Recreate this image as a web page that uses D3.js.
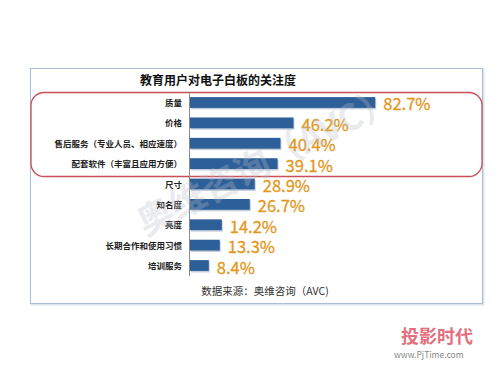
<!DOCTYPE html>
<html>
<head>
<meta charset="utf-8">
<script src="https://cdn.jsdelivr.net/npm/d3@7"></script>
<style>
body { margin: 0; background: #fff; }
svg text { font-family: "Noto Sans CJK SC", "Liberation Sans", sans-serif; }
</style>
</head>
<body>
<div id="chart"></div>
<script>
'use strict';
// 教育用户对电子白板的关注度
const categories = ['质量', '价格', '售后服务（专业人员、相应速度）', '配套软件（丰富且应用方便）',
	'尺寸', '知名度', '亮度', '长期合作和使用习惯', '培训服务'];
const values = [82.7, 46.2, 40.4, 39.1, 28.9, 26.7, 14.2, 13.3, 8.4];
const title = '教育用户对电子白板的关注度';
const source = '数据来源：奥维咨询（AVC)';

const w = 500, h = 375;
const svg = d3.select('#chart').append('svg')
	.attr('width', w)
	.attr('height', h);

// outer frame
svg.append('rect')
	.attr('x', 31.5).attr('y', 69.5)
	.attr('width', 452).attr('height', 235)
	.attr('fill', 'none').attr('stroke', '#dfe3ea').attr('stroke-width', 2);
svg.append('rect')
	.attr('x', 30.5).attr('y', 68.5)
	.attr('width', 452).attr('height', 235)
	.attr('fill', '#fff').attr('stroke', '#a9bdd8');

svg.append('text')
	.attr('x', 218).attr('y', 85)
	.attr('text-anchor', 'middle')
	.attr('font-size', 12)
	.attr('font-weight', 'bold')
	.attr('fill', '#111')
	.text(title);

var x = d3.scaleLinear()
	.domain([0, 100])
	.range([190, 414]);

var y = d3.scaleBand()
	.domain(categories)
	.range([92, 276])
	.paddingInner(0.47)
	.paddingOuter(0.25);

// red highlight box
svg.append('rect')
	.attr('x', 31).attr('y', 92.5)
	.attr('width', 451).attr('height', 84)
	.attr('rx', 13).attr('ry', 13)
	.attr('fill', 'none').attr('stroke', '#c9505a').attr('stroke-width', 1.3);

// bar shadows
svg.selectAll('rect.shadow')
	.data(values)
	.enter().append('rect')
	.attr('class', 'shadow')
	.attr('x', x(0) + 1)
	.attr('y', function (d, i) { return y(categories[i]) + 1.5; })
	.attr('width', function (d) { return x(d) - x(0); })
	.attr('height', y.bandwidth())
	.attr('fill', '#c5cfdc');

svg.selectAll('rect.bar')
	.data(values)
	.enter().append('rect')
	.attr('class', 'bar')
	.attr('x', x(0))
	.attr('y', function (d, i) { return y(categories[i]); })
	.attr('width', function (d) { return x(d) - x(0); })
	.attr('height', y.bandwidth())
	.attr('fill', '#2d5f98');

// axis line
svg.append('line')
	.attr('x1', x(0) - 0.5).attr('x2', x(0) - 0.5)
	.attr('y1', 92).attr('y2', 276)
	.attr('stroke', '#8a8a8a');

svg.selectAll('text.cat')
	.data(categories)
	.enter().append('text')
	.attr('class', 'cat')
	.attr('x', 182)
	.attr('y', function (d) { return y(d) + y.bandwidth() / 2 + 3.5; })
	.attr('text-anchor', 'end')
	.attr('font-size', 8.5)
	.attr('font-weight', 'bold')
	.attr('fill', '#222')
	.text(function (d) { return d; });

svg.selectAll('text.val')
	.data(values)
	.enter().append('text')
	.attr('class', 'val')
	.attr('x', function (d) { return x(d) + 8; })
	.attr('y', function (d, i) { return y(categories[i]) + y.bandwidth() / 2 + 8; })
	.attr('font-family', 'Liberation Sans, Arial, sans-serif')
	.attr('font-size', 16.5)
	.attr('fill', '#e3971c')
	.attr('stroke', '#e3971c').attr('stroke-width', 0.3)
	.text(function (d) { return d.toFixed(1) + '%'; });

// watermark, drawn over the bars like the original
svg.append('text')
	.attr('transform', 'translate(272,172) rotate(-27)')
	.attr('text-anchor', 'middle')
	.attr('font-size', 36)
	.attr('font-weight', 'bold')
	.attr('fill', '#b8bec8')
	.attr('opacity', 0.3)
	.text('奥维咨询（AVC）');

svg.append('text')
	.attr('x', 265).attr('y', 295)
	.attr('text-anchor', 'middle')
	.attr('font-size', 10.5)
	.attr('fill', '#333')
	.text(source);

// logo bottom right
svg.append('text')
	.attr('x', 401).attr('y', 343)
	.attr('font-size', 18)
	.attr('font-weight', 'bold')
	.attr('fill', '#e36f7f')
	.text('投影时代');
svg.append('text')
	.attr('x', 394).attr('y', 358)
	.attr('font-family', 'DejaVu Serif, serif')
	.attr('font-size', 8.5)
	.attr('fill', '#888')
	.text('www.PjTime.com');
</script>
</body>
</html>
